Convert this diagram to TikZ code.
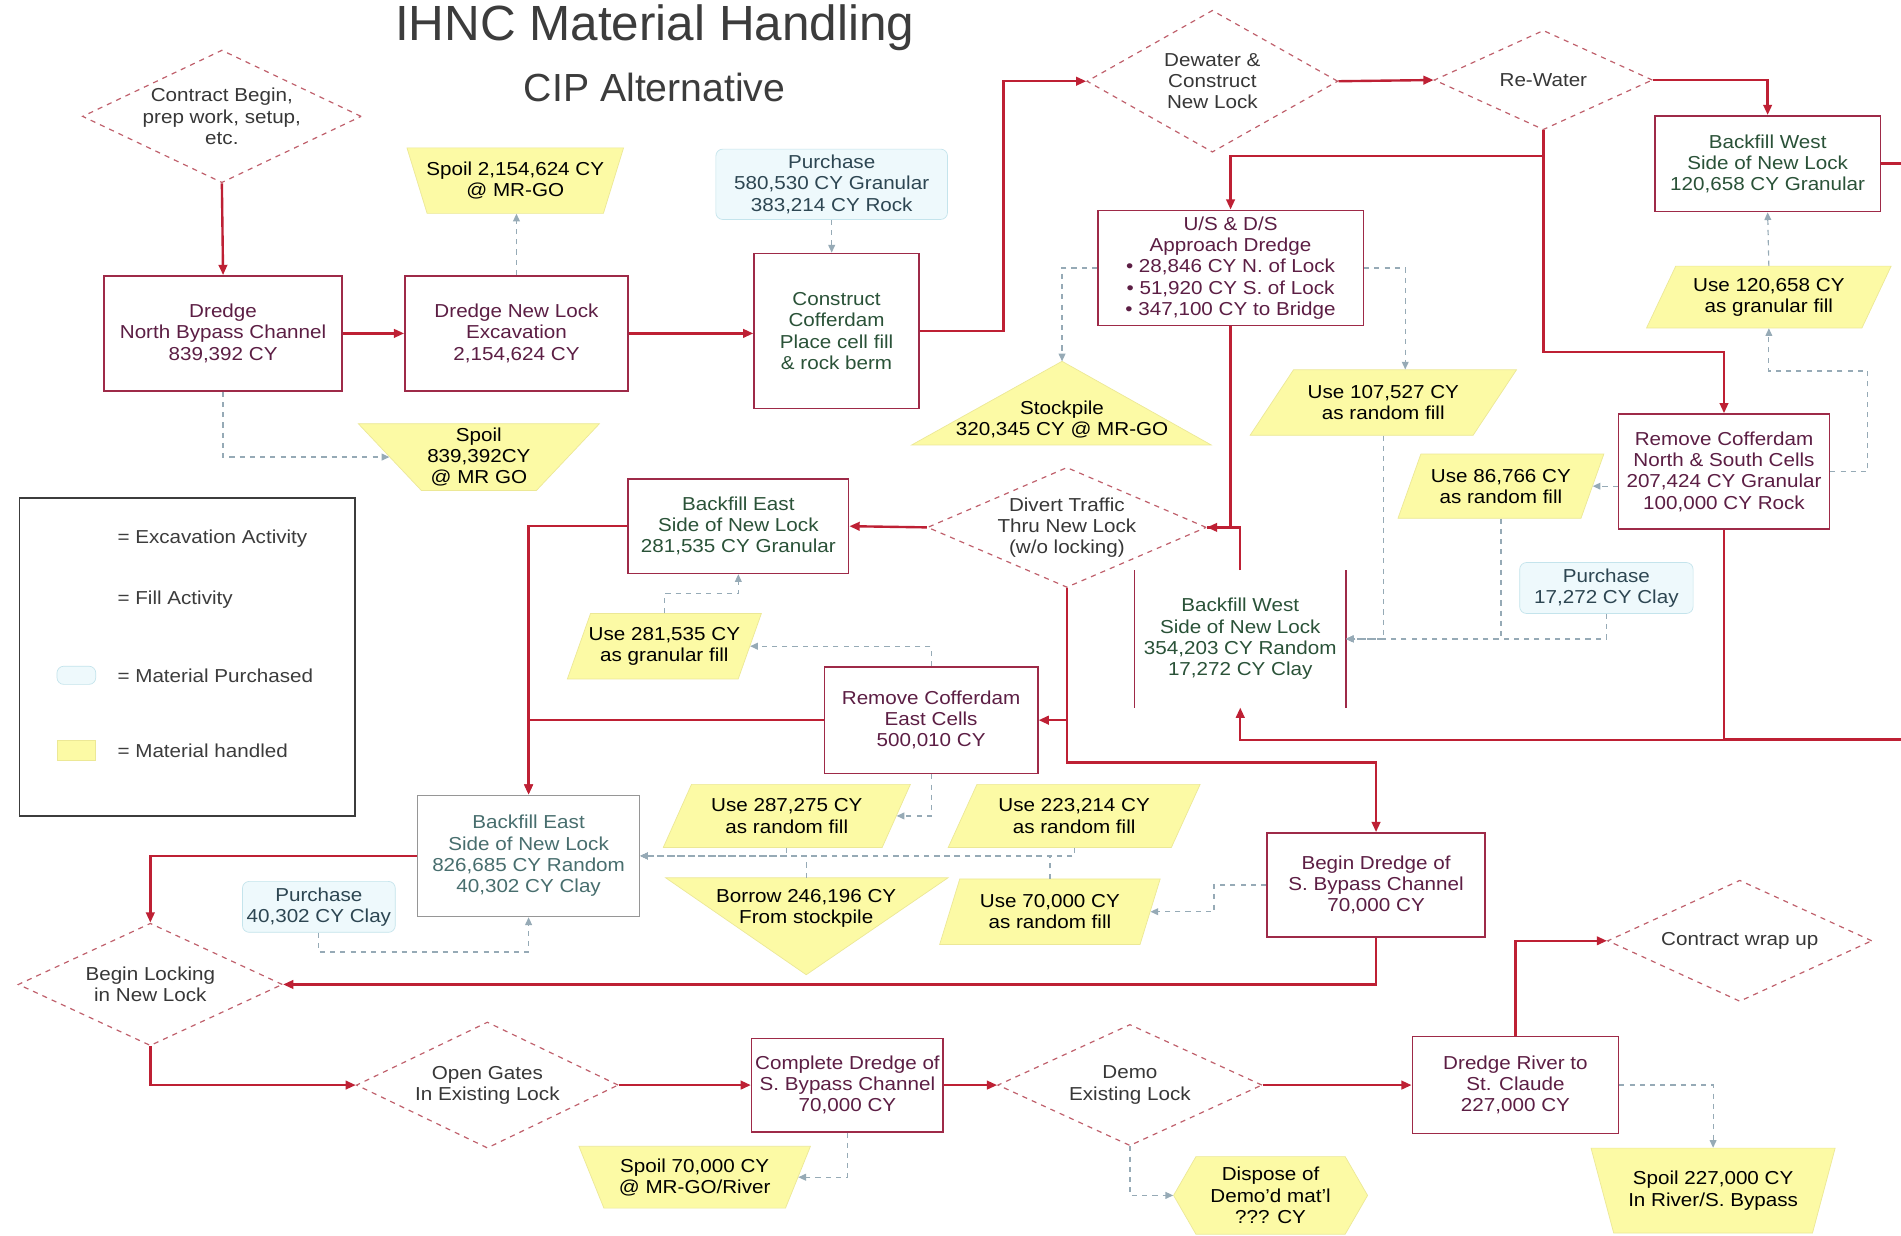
\documentclass[tikz,border=0pt]{standalone}
\usepackage{fontspec}
\setmainfont{Liberation Sans}[FakeStretch=1.1]
\newfontfamily\titlefont{Liberation Sans}
\usepackage{xcolor}
\usepackage{tikz}
\usetikzlibrary{shapes.geometric, shapes.symbols, arrows.meta}
\definecolor{flowColor}{RGB}{190,32,52}
\definecolor{boxColor}{RGB}{158,42,72}
\definecolor{decisionColor}{RGB}{192,96,108}
\definecolor{excavText}{RGB}{92,30,68}
\definecolor{fillText}{RGB}{42,82,56}
\definecolor{decisionText}{RGB}{55,55,55}
\definecolor{matYellow}{RGB}{252,250,165}
\definecolor{matDraw}{RGB}{236,232,150}
\definecolor{purchFill}{RGB}{238,249,252}
\definecolor{purchDraw}{RGB}{196,228,236}
\definecolor{purchText}{RGB}{45,70,82}
\definecolor{feedColor}{RGB}{150,170,182}
\definecolor{fadedBox}{RGB}{150,150,150}
\definecolor{fadedText}{RGB}{72,110,110}
\definecolor{titleColor}{RGB}{60,60,60}
\definecolor{legendColor}{RGB}{60,60,60}

\begin{document}
\begin{tikzpicture}[
    x=0.025cm, y=-0.025cm,
    font=\fontsize{11}{12.45}\selectfont,
    excav/.style={rectangle, draw=boxColor, line width=0.9pt, fill=white, text=excavText, align=center, inner sep=2pt},
    fillbox/.style={excav, text=fillText},
    decision/.style={diamond, draw=decisionColor, dashed, line width=0.7pt, fill=white, text=decisionText, align=center, inner sep=-12pt},
    purchase/.style={rectangle, rounded corners=4pt, draw=purchDraw, fill=purchFill, text=purchText, align=center, inner sep=1pt},
    material/.style={fill=matYellow, draw=matDraw, text=black, align=center},
    usefill/.style={material, trapezium, trapezium stretches=true, trapezium left angle=#1, trapezium right angle={180-#1}, inner xsep=-8pt, inner ysep=0pt},
    spoil/.style={material, trapezium, trapezium stretches=true, shape border rotate=180, trapezium left angle=#1, trapezium right angle=#1, inner xsep=-14pt, inner ysep=-4pt},
    flow/.style={draw=flowColor, line width=1.4pt, -{Triangle[length=6pt,width=5pt]}},
    flowline/.style={draw=flowColor, line width=1.4pt},
    feed/.style={draw=feedColor, line width=0.7pt, dash pattern=on 3pt off 3pt, -{Triangle[length=4.5pt,width=4pt]}}
]
    \path[use as bounding box, fill=white] (0,0) rectangle (1568,1019);

    % Title
    \node[font=\titlefont\fontsize{29}{32}\selectfont, text=titleColor] (title) at (540,23) {IHNC Material Handling};
    \node[font=\titlefont\fontsize{23}{26}\selectfont, text=titleColor] (subtitle) at (540,72) {CIP Alternative};

    % Legend
    \node[draw=legendColor, line width=1pt, minimum width=6.925cm, minimum height=6.55cm] (legend) at (154.5,542) {};
    \node[anchor=west, text=legendColor] (legExc) at (92,444) {= Excavation Activity};
    \node[anchor=west, text=legendColor] (legFill) at (92,495) {= Fill Activity};
    \node[purchase, minimum width=0.8cm, minimum height=0.375cm] (swPurch) at (63,557) {};
    \node[anchor=west, text=legendColor] (legPurch) at (92,557) {= Material Purchased};
    \node[material, minimum width=0.8cm, minimum height=0.4cm] (swMat) at (63,619) {};
    \node[anchor=west, text=legendColor] (legMat) at (92,619) {= Material handled};

    % Dredging and cofferdam
    \node[decision, minimum width=5.75cm, minimum height=2.5cm] (start) at (183,96) {Contract Begin,\\prep work, setup,\\etc.};
    \node[excav, minimum width=4.9cm, minimum height=2.375cm] (dnb) at (184,275) {Dredge\\North Bypass Channel\\839,392 CY};
    \node[excav, minimum width=4.6cm, minimum height=2.375cm] (dnl) at (426,275) {Dredge New Lock\\Excavation\\2,154,624 CY};
    \node[spoil=58, minimum width=4.5cm, minimum height=1.35cm] (spoil1) at (425,149) {Spoil 2,154,624 CY\\@ MR-GO};
    \node[spoil=56, minimum width=5cm, minimum height=1.375cm] (spoil2) at (395,377) {Spoil\\839,392CY\\@ MR GO};
    \node[purchase, minimum width=4.775cm, minimum height=1.45cm] (purch1) at (686,152) {Purchase\\580,530 CY Granular\\383,214 CY Rock};
    \node[fillbox, minimum width=3.4cm, minimum height=3.2cm] (cof) at (690,273) {Construct\\Cofferdam\\Place cell fill\\\& rock berm};

    % New lock
    \node[decision, minimum width=5.175cm, minimum height=2.925cm] (dewater) at (1000,67) {Dewater \&\\Construct\\New Lock};
    \node[decision, minimum width=4.5cm, minimum height=2.05cm] (rewater) at (1273,66) {Re-Water};
    \node[fillbox, minimum width=4.65cm, minimum height=1.975cm] (bfw1) at (1458,135) {Backfill West\\Side of New Lock\\120,658 CY Granular};
    \node[usefill=63, minimum width=5.075cm, minimum height=1.275cm] (use120) at (1459,245) {Use 120,658 CY\\as granular fill};
    \node[excav, minimum width=5.475cm, minimum height=2.375cm] (usds) at (1015,221) {U/S \& D/S\\Approach Dredge\\• 28,846 CY N. of Lock\\• 51,920 CY S. of Lock\\• 347,100 CY to Bridge};
    \coordinate (stockTop) at (876,298);
    \filldraw[fill=matYellow, draw=matDraw] (stockTop) -- (999,367) -- (752,367) -- cycle;
    \node[align=center] (stock) at (876,346) {Stockpile\\320,345 CY @ MR-GO};
    \node[usefill=49, minimum width=5.5cm, minimum height=1.35cm] (use107) at (1141,332) {Use 107,527 CY\\as random fill};
    \node[excav, minimum width=4.35cm, minimum height=2.375cm] (rcns) at (1422,389) {Remove Cofferdam\\North \& South Cells\\207,424 CY Granular\\100,000 CY Rock};
    \node[usefill=65, minimum width=4.275cm, minimum height=1.325cm] (use86) at (1238,401) {Use 86,766 CY\\as random fill};
    \node[purchase, minimum width=3.575cm, minimum height=1.05cm] (purch2) at (1325,485) {Purchase\\17,272 CY Clay};
    \node[fillbox, draw=none, fill=none, minimum width=4.325cm, minimum height=2.8cm] (bfw2) at (1023,527) {Backfill West\\Side of New Lock\\354,203 CY Random\\17,272 CY Clay};
    \draw[boxColor, line width=0.9pt] (bfw2.north west) -- (bfw2.south west) (bfw2.north east) -- (bfw2.south east);
    \coordinate (edgeTop) at (1568,135);
    \coordinate (edgeLow) at (1568,610);

    % Traffic diversion and east side
    \node[decision, minimum width=5.75cm, minimum height=2.475cm] (divert) at (880,435) {Divert Traffic\\Thru New Lock\\(w/o locking)};
    \node[fillbox, minimum width=4.55cm, minimum height=1.95cm] (bfe1) at (609,434) {Backfill East\\Side of New Lock\\281,535 CY Granular};
    \node[usefill=63, minimum width=4.025cm, minimum height=1.35cm] (use281) at (548,533) {Use 281,535 CY\\as granular fill};
    \node[excav, minimum width=4.4cm, minimum height=2.2cm] (rce) at (768,594) {Remove Cofferdam\\East Cells\\500,010 CY};
    \node[fillbox, draw=fadedBox, text=fadedText, minimum width=4.575cm, minimum height=2.5cm] (bfe2) at (436,706) {Backfill East\\Side of New Lock\\826,685 CY Random\\40,302 CY Clay};
    \node[usefill=62, minimum width=5.1cm, minimum height=1.3cm] (use287) at (649,673) {Use 287,275 CY\\as random fill};
    \node[usefill=62, minimum width=5.2cm, minimum height=1.3cm] (use223) at (886,673) {Use 223,214 CY\\as random fill};
    \coordinate (borrowTop) at (665,724);
    \filldraw[fill=matYellow, draw=matDraw] (549,724) -- (782,724) -- (665,804) -- cycle;
    \node[align=center] (borrow) at (665,749) {Borrow 246,196 CY\\From stockpile};
    \node[usefill=70, minimum width=4.575cm, minimum height=1.35cm] (use70) at (866,752) {Use 70,000 CY\\as random fill};
    \node[excav, minimum width=4.5cm, minimum height=2.15cm] (bds) at (1135,730) {Begin Dredge of\\S. Bypass Channel\\70,000 CY};
    \node[purchase, minimum width=3.15cm, minimum height=1.05cm] (purch3) at (263,748) {Purchase\\40,302 CY Clay};

    % Locking and wrap up
    \node[decision, minimum width=5.45cm, minimum height=2.525cm] (lock) at (124,812) {Begin Locking\\in New Lock};
    \node[decision, minimum width=5.4cm, minimum height=2.6cm] (gates) at (402,895) {Open Gates\\In Existing Lock};
    \node[excav, minimum width=3.95cm, minimum height=1.925cm] (cds) at (699,895) {Complete Dredge of\\S. Bypass Channel\\70,000 CY};
    \node[spoil=59, minimum width=4.8cm, minimum height=1.275cm] (spoil3) at (573,971) {Spoil 70,000 CY\\@ MR-GO/River};
    \node[decision, minimum width=5.45cm, minimum height=2.5cm] (demo) at (932,895) {Demo\\Existing Lock};
    \node[material, signal, signal to=east and west, signal pointer angle=120, minimum width=4cm, minimum height=1.6cm, inner sep=0pt] (dispose) at (1048,986) {Dispose of\\Demo'd mat'l\\??? CY};
    \node[excav, minimum width=4.25cm, minimum height=2cm] (drc) at (1250,895) {Dredge River to\\St. Claude\\227,000 CY};
    \node[decision, minimum width=5.45cm, minimum height=2.5cm] (wrap) at (1435,776) {Contract wrap up};
    \node[spoil=61, minimum width=5.075cm, minimum height=1.75cm] (spoil4) at (1413,982) {Spoil 227,000 CY\\In River/S. Bypass};

    % Main flow
    \draw[flow] (start.south) -- (dnb.north);
    \draw[flow] (dnb.east) -- (dnl.west);
    \draw[flow] (dnl.east) -- (dnl.east -| cof.west);
    \draw[flow] (cof.east) -- ++(69,0) |- (dewater.west);
    \draw[flow] (dewater.east) -- (rewater.west);
    \draw[flow] (rewater.east) -| (bfw1.north);
    \draw[flow] (rewater.south) -- ++(0,21) -| (usds.north);
    \draw[flow] (rewater.south) -- ++(0,183) -| (rcns.north);
    \draw[flow] (rcns.south) -- ++(0,173) -| (bfw2.south);
    \draw[flowline] (edgeLow -| rcns.south) -- (edgeLow);
    \draw[flowline] (bfw1.east) -- (edgeTop);
    \draw[flow] (usds.south) |- (divert.east);
    \draw[flowline] (bfw2.north) |- (divert.east);
    \draw[flow] (divert.west) -- (bfe1.east);
    \draw[flow] (bfe1.west) -| (bfe2.north);
    \draw[flow] (rce.west) -| (bfe2.north);
    \draw[flow] (divert.south) -- ++(0,144) -| (bds.north);
    \draw[flow] (divert.south |- rce.east) -- (rce.east);
    \draw[flow] (bfe2.west) -| (lock.north);
    \draw[flow] (bds.south) |- (lock.east);
    \draw[flow] (lock.south) |- (gates.west);
    \draw[flow] (gates.east) -- (cds.west);
    \draw[flow] (cds.east) -- (demo.west);
    \draw[flow] (demo.east) -- (drc.west);
    \draw[flow] (drc.north) |- (wrap.west);

    % Material feeds
    \draw[feed] (dnl.north) -- (dnl.north |- spoil1.south);
    \draw[feed] (dnb.south) |- (spoil2.west);
    \draw[feed] (purch1.south) -- (purch1.south |- cof.north);
    \draw[feed] (usds.west) -| (stockTop);
    \draw[feed] (usds.east) -| (use107.top side);
    \draw[feed] (use107.south) |- (bfw2.east);
    \draw[feed] (use86.south) |- (bfw2.east);
    \draw[feed] (purch2.south) |- (bfw2.east);
    \draw[feed] (use86.east -| rcns.west) -- (use86.east);
    \draw[feed] (rcns.east) -- ++(31,0) -- ++(0,-83) -| (use120.south);
    \draw[feed] (use120.north) -- (bfw1.south);
    \draw[feed] (rce.north) |- (use281.east);
    \draw[feed] (use281.north) -- ++(0,-16) -| (bfe1.south);
    \draw[feed] (rce.south) |- (use287.east);
    \draw[feed] (use287.south) |- (bfe2.east);
    \draw[feed] (use223.south) |- (bfe2.east);
    \draw[feed] (borrowTop) |- (bfe2.east);
    \draw[feed] (use70.north) |- (bfe2.east);
    \draw[feed] (purch3.south) -- ++(0,16) -| (bfe2.south);
    \draw[feed] (bds.west) -- ++(-43,0) |- (use70.east);
    \draw[feed] (cds.south) |- (spoil3.east);
    \draw[feed] (demo.south) |- (dispose.west);
    \draw[feed] (drc.east) -| (spoil4.north);
\end{tikzpicture}
\end{document}
